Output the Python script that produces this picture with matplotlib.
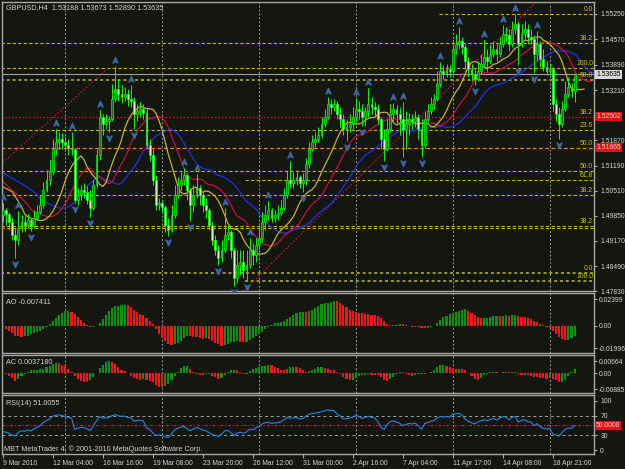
import numpy as np
import pandas as pd
import matplotlib
matplotlib.use("Agg")
import matplotlib.pyplot as plt
import matplotlib.transforms as mtransforms
from matplotlib.path import Path

plt.rcParams['font.family'] = ['Liberation Sans', 'DejaVu Sans']

# ---------------- data (GBPUSD H4) ----------------
opens = [
    1.4987, 1.5000, 1.4990, 1.4968, 1.4933, 1.4920, 1.4952, 1.4968, 1.4960, 1.4974,
    1.4957, 1.4979, 1.4995, 1.5014, 1.5054, 1.5081, 1.5103, 1.5162, 1.5181, 1.5189,
    1.5183, 1.5173, 1.5167, 1.5162, 1.5027, 1.5041, 1.5054, 1.5049, 1.5027, 1.5006,
    1.5068, 1.5148, 1.5248, 1.5229, 1.5237, 1.5243, 1.5296, 1.5323, 1.5310, 1.5302,
    1.5310, 1.5296, 1.5291, 1.5256, 1.5264, 1.5270, 1.5261, 1.5175, 1.5148, 1.5081,
    1.5014, 1.5019, 1.5009, 1.4960, 1.4947, 1.4987, 1.5041, 1.5068, 1.5081, 1.5095,
    1.5054, 1.5014, 1.5041, 1.5060, 1.5041, 1.5014, 1.5000, 1.4960, 1.4920, 1.4893,
    1.4871, 1.4893, 1.4933, 1.4941, 1.4893, 1.4818, 1.4853, 1.4861, 1.4839, 1.4853,
    1.4893, 1.4879, 1.4906, 1.4925, 1.4968, 1.4987, 1.5000, 1.4979, 1.4987, 1.4992,
    1.5006, 1.5041, 1.5081, 1.5073, 1.5081, 1.5087, 1.5073, 1.5081, 1.5122, 1.5162,
    1.5181, 1.5189, 1.5202, 1.5229, 1.5248, 1.5283, 1.5275, 1.5283, 1.5256, 1.5243,
    1.5216, 1.5221, 1.5229, 1.5248, 1.5270, 1.5264, 1.5248, 1.5264, 1.5283, 1.5275,
    1.5270, 1.5243, 1.5189, 1.5162, 1.5216, 1.5256, 1.5270, 1.5256, 1.5243, 1.5216,
    1.5229, 1.5243, 1.5237, 1.5248, 1.5216, 1.5175, 1.5243, 1.5264, 1.5283, 1.5296,
    1.5337, 1.5372, 1.5366, 1.5377, 1.5372, 1.5431, 1.5444, 1.5452, 1.5436, 1.5399,
    1.5377, 1.5364, 1.5350, 1.5372, 1.5391, 1.5409, 1.5399, 1.5417, 1.5431, 1.5417,
    1.5444, 1.5471, 1.5469, 1.5444, 1.5485, 1.5498, 1.5444, 1.5471, 1.5485, 1.5463,
    1.5458, 1.5417, 1.5444, 1.5404, 1.5382, 1.5372, 1.5377, 1.5283, 1.5256, 1.5229,
    1.5270, 1.5310, 1.5329, 1.53188,
]
highs = [
    1.5019, 1.5006, 1.4995, 1.4979, 1.4952, 1.4998, 1.4987, 1.4984, 1.4990, 1.4979,
    1.5000, 1.5014, 1.5041, 1.5076, 1.5108, 1.5135, 1.5189, 1.5218, 1.5210, 1.5205,
    1.5197, 1.5189, 1.5208, 1.5167, 1.5060, 1.5068, 1.5071, 1.5065, 1.5054, 1.5081,
    1.5162, 1.5267, 1.5256, 1.5256, 1.5253, 1.5337, 1.5385, 1.5350, 1.5334, 1.5329,
    1.5323, 1.5334, 1.5302, 1.5283, 1.5288, 1.5283, 1.5270, 1.5189, 1.5162, 1.5095,
    1.5033, 1.5027, 1.5014, 1.4979, 1.5014, 1.5068, 1.5087, 1.5103, 1.5113, 1.5100,
    1.5060, 1.5068, 1.5097, 1.5068, 1.5049, 1.5033, 1.5006, 1.4968, 1.4933, 1.4906,
    1.4920, 1.5006, 1.4960, 1.4947, 1.4898, 1.4893, 1.4893, 1.4893, 1.4893, 1.4925,
    1.4912, 1.4925, 1.4952, 1.4995, 1.5014, 1.5025, 1.5006, 1.5000, 1.5014, 1.5027,
    1.5060, 1.5108, 1.5132, 1.5103, 1.5108, 1.5095, 1.5100, 1.5140, 1.5183, 1.5202,
    1.5208, 1.5221, 1.5248, 1.5270, 1.5302, 1.5296, 1.5296, 1.5291, 1.5275, 1.5256,
    1.5243, 1.5256, 1.5275, 1.5299, 1.5291, 1.5283, 1.5275, 1.5326, 1.5302, 1.5288,
    1.5283, 1.5248, 1.5216, 1.5243, 1.5283, 1.5286, 1.5280, 1.5275, 1.5288, 1.5264,
    1.5261, 1.5256, 1.5264, 1.5256, 1.5243, 1.5264, 1.5283, 1.5302, 1.5310, 1.5372,
    1.5396, 1.5388, 1.5391, 1.5388, 1.5458, 1.5471, 1.5490, 1.5463, 1.5444, 1.5409,
    1.5391, 1.5377, 1.5399, 1.5417, 1.5455, 1.5431, 1.5444, 1.5452, 1.5444, 1.5463,
    1.5495, 1.5490, 1.5485, 1.5506, 1.5525, 1.5506, 1.5498, 1.5506, 1.5498, 1.5485,
    1.5469, 1.5479, 1.5452, 1.5431, 1.5399, 1.5393, 1.5382, 1.5296, 1.5275, 1.5291,
    1.5345, 1.5356, 1.5339, 1.53673,
]
lows = [
    1.4968, 1.4960, 1.4947, 1.4920, 1.4871, 1.4906, 1.4941, 1.4941, 1.4952, 1.4944,
    1.4952, 1.4974, 1.4990, 1.5006, 1.5049, 1.5068, 1.5095, 1.5148, 1.5162, 1.5162,
    1.5157, 1.5148, 1.5146, 1.5019, 1.5014, 1.5027, 1.5033, 1.5017, 1.4982, 1.5000,
    1.5060, 1.5135, 1.5202, 1.5216, 1.5210, 1.5237, 1.5288, 1.5291, 1.5286, 1.5291,
    1.5278, 1.5275, 1.5218, 1.5237, 1.5248, 1.5243, 1.5167, 1.5130, 1.5068, 1.5000,
    1.5000, 1.4995, 1.4941, 1.4931, 1.4941, 1.4979, 1.5033, 1.5054, 1.5068, 1.5027,
    1.4971, 1.4995, 1.5033, 1.5014, 1.4995, 1.4979, 1.4947, 1.4906, 1.4879, 1.4853,
    1.4861, 1.4887, 1.4920, 1.4871, 1.4796, 1.4804, 1.4826, 1.4818, 1.4810, 1.4844,
    1.4853, 1.4861, 1.4893, 1.4914, 1.4947, 1.4974, 1.4968, 1.4968, 1.4974, 1.4987,
    1.5000, 1.5033, 1.5060, 1.5060, 1.5068, 1.5060, 1.5049, 1.5068, 1.5113, 1.5157,
    1.5170, 1.5181, 1.5194, 1.5221, 1.5243, 1.5256, 1.5264, 1.5243, 1.5221, 1.5202,
    1.5186, 1.5210, 1.5216, 1.5237, 1.5243, 1.5224, 1.5226, 1.5248, 1.5256, 1.5248,
    1.5229, 1.5162, 1.5130, 1.5157, 1.5210, 1.5237, 1.5229, 1.5202, 1.5143, 1.5162,
    1.5202, 1.5216, 1.5221, 1.5189, 1.5143, 1.5167, 1.5237, 1.5256, 1.5270, 1.5291,
    1.5329, 1.5350, 1.5356, 1.5356, 1.5366, 1.5417, 1.5431, 1.5417, 1.5377, 1.5356,
    1.5345, 1.5334, 1.5345, 1.5364, 1.5382, 1.5372, 1.5391, 1.5409, 1.5399, 1.5409,
    1.5436, 1.5452, 1.5426, 1.5436, 1.5471, 1.5388, 1.5436, 1.5458, 1.5444, 1.5444,
    1.5366, 1.5399, 1.5382, 1.5372, 1.5361, 1.5361, 1.5264, 1.5237, 1.5191, 1.5221,
    1.5264, 1.5302, 1.5302, 1.52890,
]
closes = [
    1.5000, 1.4990, 1.4968, 1.4933, 1.4920, 1.4952, 1.4968, 1.4960, 1.4974, 1.4957,
    1.4979, 1.4995, 1.5014, 1.5054, 1.5081, 1.5103, 1.5162, 1.5181, 1.5189, 1.5183,
    1.5173, 1.5167, 1.5162, 1.5027, 1.5041, 1.5054, 1.5049, 1.5027, 1.5006, 1.5068,
    1.5148, 1.5248, 1.5229, 1.5237, 1.5243, 1.5296, 1.5323, 1.5310, 1.5302, 1.5310,
    1.5296, 1.5291, 1.5256, 1.5264, 1.5270, 1.5261, 1.5175, 1.5148, 1.5081, 1.5014,
    1.5019, 1.5009, 1.4960, 1.4947, 1.4987, 1.5041, 1.5068, 1.5081, 1.5095, 1.5054,
    1.5014, 1.5041, 1.5060, 1.5041, 1.5014, 1.5000, 1.4960, 1.4920, 1.4893, 1.4871,
    1.4893, 1.4933, 1.4941, 1.4893, 1.4818, 1.4853, 1.4861, 1.4839, 1.4853, 1.4893,
    1.4879, 1.4906, 1.4925, 1.4968, 1.4987, 1.5000, 1.4979, 1.4987, 1.4992, 1.5006,
    1.5041, 1.5081, 1.5073, 1.5081, 1.5087, 1.5073, 1.5081, 1.5122, 1.5162, 1.5181,
    1.5189, 1.5202, 1.5229, 1.5248, 1.5283, 1.5275, 1.5283, 1.5256, 1.5243, 1.5216,
    1.5221, 1.5229, 1.5248, 1.5270, 1.5264, 1.5248, 1.5264, 1.5283, 1.5275, 1.5270,
    1.5243, 1.5189, 1.5162, 1.5216, 1.5256, 1.5270, 1.5256, 1.5243, 1.5216, 1.5229,
    1.5243, 1.5237, 1.5248, 1.5216, 1.5175, 1.5243, 1.5264, 1.5283, 1.5296, 1.5337,
    1.5372, 1.5366, 1.5377, 1.5372, 1.5431, 1.5444, 1.5452, 1.5436, 1.5399, 1.5377,
    1.5364, 1.5350, 1.5372, 1.5391, 1.5409, 1.5399, 1.5417, 1.5431, 1.5417, 1.5444,
    1.5471, 1.5469, 1.5444, 1.5485, 1.5498, 1.5444, 1.5471, 1.5485, 1.5463, 1.5458,
    1.5417, 1.5444, 1.5404, 1.5382, 1.5372, 1.5377, 1.5283, 1.5256, 1.5229, 1.5270,
    1.5310, 1.5329, 1.5319, 1.53635,
]

date_labels = ["9 Mar 2010", "12 Mar 04:00", "16 Mar 16:00", "19 Mar 08:00",
               "23 Mar 20:00", "26 Mar 12:00", "31 Mar 00:00", "2 Apr 16:00",
               "7 Apr 04:00", "11 Apr 17:00", "14 Apr 08:00", "18 Apr 21:00"]
bars_per_label = 16

# Bill Williams fractals (bar indices)
up_fractals = [0, 5, 17, 22, 31, 36, 41, 58, 62, 71, 79, 85, 92, 104, 113, 117,
               125, 128, 140, 146, 154, 160, 164, 171]
down_fractals = [4, 9, 23, 28, 34, 42, 53, 60, 69, 74, 78, 96, 110, 115, 122,
                 128, 134, 151, 165, 170, 178]

# Alligator: values at the left edge and smoothing start values
jaw_left, teeth_left, lips_left = 1.5100, 1.5076, 1.5062
jaw_seed, teeth_seed, lips_seed = 1.5066, 1.5044, 1.5063
prior_level = 1.5066          # median price level before the visible window

# RSI(14) starting averages
rsi_gain0, rsi_loss0 = 0.0009, 0.0015

price_ticks = [1.55250, 1.54570, 1.53890, 1.53210, 1.51870, 1.51190,
               1.50510, 1.49850, 1.49170, 1.48490, 1.47830]
last_price = 1.53635

# Fibonacci levels
fib_prices = [1.5525, 1.5447, 1.5380, 1.5348, 1.52502, 1.5213, 1.51665,
              1.5105, 1.5081, 1.5041, 1.4957, 1.4952, 1.4831, 1.4810]
fib_texts = ["0.0", "38.2", "100.0", "50.0", "38.2", "23.6", "50.0",
             "50.0", "61.8", "38.2", "38.2", "", "0.0", "100.0"]
fib_first_bar = [140, 0, 0, 0, 0, 0, 0, 0, 78, 0, 0, 0, 0, 78]
fib_kind = ["y", "y", "y", "o", "r", "y", "or", "y", "y", "y", "y", "y", "o", "o"]

# trend lines (bar, price)
trend1_bars, trend1_prices = [0, 34], [1.5127, 1.5382]
trend2_bars, trend2_prices = [78, 160], [1.4791, 1.5469]

# ---------------- indicators ----------------
n = len(closes)
x = np.arange(n)
o, h, l, c = map(np.asarray, (opens, highs, lows, closes))
median = (h + l) / 2


def smma(values, period, seed):
    out, prev = [], seed
    for v in values:
        prev = (prev * (period - 1) + v) / period
        out.append(prev)
    return np.array(out)


jaw = smma(median, 13, jaw_seed)
teeth = smma(median, 8, teeth_seed)
lips = smma(median, 5, lips_seed)

med = pd.Series(np.r_[np.full(33, prior_level), median])
ao = (med.rolling(5).mean() - med.rolling(34).mean()).values[33:]
ac = ao - pd.Series(ao).rolling(5, min_periods=1).mean().values

g, lo = rsi_gain0, rsi_loss0
rsi = [100 - 100 / (1 + g / lo)]
for d in np.diff(c):
    g = (g * 13 + max(d, 0)) / 14
    lo = (lo * 13 + max(-d, 0)) / 14
    rsi.append(100 - 100 / (1 + g / lo))
rsi = np.array(rsi)

# ---------------- figure ----------------
BG = "#131710"
FRAME = "#a8a8a8"
TXT = "#d4d4d4"
FS = 4.9
W, H = 625, 469

fig = plt.figure(figsize=(W / 100, H / 100), dpi=100, facecolor=BG)


def panel(top, bottom, pad=2):
    a = fig.add_axes([2 / W, 1 - bottom / H, 592 / W, (bottom - top) / H], facecolor=BG)
    for s in a.spines.values():
        s.set_color(FRAME)
        s.set_linewidth(1.0)
    a.set_xlim(-0.25, 189.2)
    a.yaxis.tick_right()
    a.tick_params(axis="y", length=2.5, width=0.8, color=FRAME, labelcolor=TXT,
                  labelsize=FS, pad=pad)
    a.tick_params(axis="x", bottom=False, labelbottom=False)
    for gx in range(20, n, 31):
        a.axvline(gx, color="#9c9c9c", lw=0.7, ls=(0, (2, 2)), zorder=0.5)
    return a


ax = panel(2, 291)
ax_ao = panel(293, 353, pad=1)
ax_ac = panel(355, 393, pad=1)
ax_rsi = panel(395, 454)

# main price panel
ax.set_ylim(1.4783, 1.5557)
ax.set_yticks(price_ticks)
ax.set_yticklabels([f"{p:.5f}" for p in price_ticks])

styles = {
    "y": dict(color="#c8b000", lw=0.8, ls=(0, (3, 2))),
    "o": dict(color="#a09a18", lw=1.4, ls=(0, (1.5, 1.5))),
    "r": dict(color="#d0103c", lw=0.9, ls=(0, (1.2, 1.6))),
    "or": dict(color="#ff7f00", lw=0.9, ls=(0, (3, 2))),
}
lab_tr = mtransforms.offset_copy(
    mtransforms.blended_transform_factory(ax.transAxes, ax.transData), fig, x=-1, y=1, units="dots")
for p, t, b0, k in zip(fib_prices, fib_texts, fib_first_bar, fib_kind):
    ax.hlines(p, b0 - 0.5, 189.2, zorder=1, **styles[k])
    if t:
        ax.text(1.0, p, t, transform=lab_tr, ha="right", va="bottom",
                fontsize=FS, color="#c8c000")

ax.axhline(last_price, color="#a0a0a0", lw=0.8, zorder=1)
ax.plot(trend1_bars, trend1_prices, color="#d0103c", lw=0.9, ls=(0, (1.2, 1.6)), zorder=1)
ax.axline((trend2_bars[0], trend2_prices[0]), (trend2_bars[1], trend2_prices[1]),
          color="#d0103c", lw=0.9, ls=(0, (1.2, 1.6)), zorder=1)

# Alligator (jaw 13/8, teeth 8/5, lips 5/3)
ax.plot(np.r_[0, x + 8], np.r_[jaw_left, jaw], color="#2030e8", lw=0.9, zorder=2)
ax.plot(np.r_[0, x + 5], np.r_[teeth_left, teeth], color="#c8103c", lw=0.9, zorder=2)
ax.plot(np.r_[0, x + 3], np.r_[lips_left, lips], color="#c8b428", lw=0.9, zorder=2)

# candles
bull = c >= o
body_low = np.minimum(o, c)
body_h = np.maximum(np.abs(c - o), 0.00006)
ax.vlines(x, l, h, color="#00ff00", lw=0.7, zorder=3)
ax.bar(x[bull], body_h[bull], bottom=body_low[bull], width=0.62,
       color="#1e6a1e", edgecolor="#00ff00", lw=0.5, zorder=4)
ax.bar(x[~bull], body_h[~bull], bottom=body_low[~bull], width=0.62,
       color="#c8ffc0", edgecolor="#00ff00", lw=0.5, zorder=4)

# fractal arrows
arrow_up = Path([(0, 1), (0.8, -0.8), (0, -0.25), (-0.8, -0.8), (0, 1)],
                [Path.MOVETO, Path.LINETO, Path.LINETO, Path.LINETO, Path.CLOSEPOLY])
arrow_dn = Path([(0, -1), (0.8, 0.8), (0, 0.25), (-0.8, 0.8), (0, -1)],
                [Path.MOVETO, Path.LINETO, Path.LINETO, Path.LINETO, Path.CLOSEPOLY])
up_tr = mtransforms.offset_copy(ax.transData, fig, y=6, units="dots")
dn_tr = mtransforms.offset_copy(ax.transData, fig, y=-6, units="dots")
ax.plot(x[up_fractals], h[up_fractals], ls="none", marker=arrow_up, ms=4.6,
        color="#3a66a0", transform=up_tr, zorder=5)
ax.plot(x[down_fractals], l[down_fractals], ls="none", marker=arrow_dn, ms=4.6,
        color="#3a66a0", transform=dn_tr, zorder=5)

# price boxes on the axis
box_tr = mtransforms.offset_copy(
    mtransforms.blended_transform_factory(ax.transAxes, ax.transData), fig, x=2, units="dots")
ax.text(1.0, last_price, "1.53635", transform=box_tr, ha="left", va="center", fontsize=FS,
        color="black", bbox=dict(facecolor="#d8d8d8", edgecolor="none", pad=0.8), clip_on=False)
for p in (1.52502, 1.51665):
    ax.text(1.0, p, f"{p:.5f}", transform=box_tr, ha="left", va="center", fontsize=FS,
            color="#ffd8d8", bbox=dict(facecolor="#e01010", edgecolor="none", pad=0.8),
            clip_on=False)

# AO
ao_up = np.r_[False, ao[1:] >= ao[:-1]]
ax_ao.bar(x, ao, width=0.7, color=np.where(ao_up, "#109010", "#f01818"), lw=0)
ax_ao.set_ylim(-0.02417, 0.02936)
ax_ao.set_yticks([0.02399, 0.0, -0.01996])
ax_ao.set_yticklabels(["0.02399", "0.00", "-0.01996"])

# AC
ac_up = np.r_[False, ac[1:] >= ac[:-1]]
ax_ac.bar(x, ac, width=0.7, color=np.where(ac_up, "#109010", "#f01818"), lw=0)
ax_ac.set_ylim(-0.01106, 0.00996)
ax_ac.set_yticks([0.00664, 0.0, -0.00885])
ax_ac.set_yticklabels(["0.00664", "0.00", "-0.00885"])

# RSI
ax_rsi.set_ylim(-8, 112)
ax_rsi.axhline(70, color="#a0a0a0", lw=0.7, ls=(0, (3, 3)))
ax_rsi.axhline(30, color="#a0a0a0", lw=0.7, ls=(0, (3, 3)))
ax_rsi.axhline(50, color="#d02050", lw=0.7, ls=(0, (3, 2, 1, 2)))
ax_rsi.plot(x, rsi, color="#1e88e8", lw=0.8)
ax_rsi.set_yticks([100, 70, 30, 0])
ax_rsi.set_yticklabels(["100", "70", "30", "0"])
rsi_tr = mtransforms.offset_copy(
    mtransforms.blended_transform_factory(ax_rsi.transAxes, ax_rsi.transData), fig, x=2, units="dots")
ax_rsi.text(1.0, 50, "50.0000", transform=rsi_tr, ha="left", va="center", fontsize=FS,
            color="#ffd8d8", bbox=dict(facecolor="#e01010", edgecolor="none", pad=0.8),
            clip_on=False)
ax_rsi.tick_params(axis="x", bottom=True, labelbottom=True, length=3, width=0.8,
                   color=FRAME, labelcolor=TXT, labelsize=FS, pad=1)
ax_rsi.set_xticks(np.arange(0, n, bars_per_label))
ax_rsi.set_xticklabels(date_labels, ha="left")


# panel captions
def caption(xp, yp, s):
    fig.text(xp / W, 1 - yp / H, s, fontsize=FS + 0.3, color=TXT, ha="left", va="center")


caption(6, 8, "GBPUSD,H4  1.53188 1.53673 1.52890 1.53635")
caption(6, 303, "AO -0.007411")
caption(6, 362, "AC 0.0037180")
caption(6, 403, "RSI(14) 51.0055")
caption(4, 449, "MBT MetaTrader 4, \u00a9 2001-2010 MetaQuotes Software Corp.")

fig.savefig("out.png", dpi=100, facecolor=BG)
